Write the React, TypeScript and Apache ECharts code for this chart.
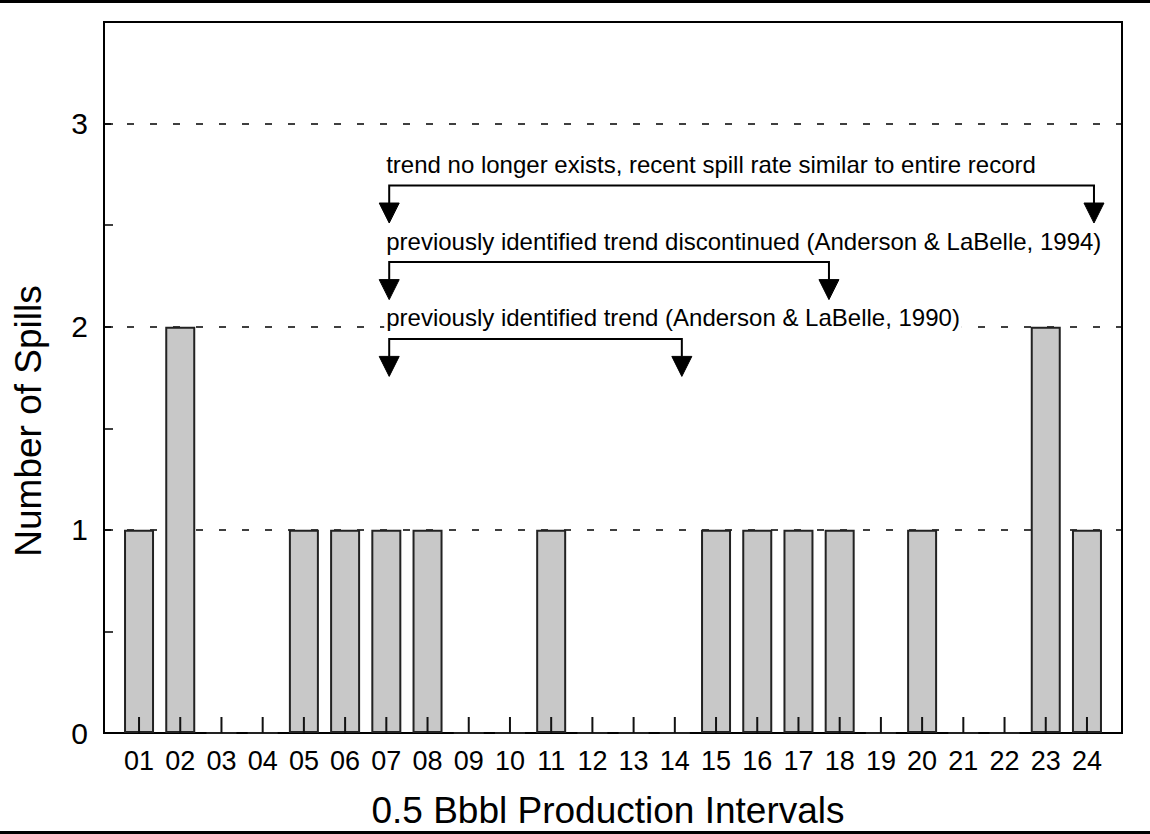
import React, { useEffect, useRef } from "react";
import * as echarts from "echarts";

const categories = ["01","02","03","04","05","06","07","08","09","10","11","12","13","14","15","16","17","18","19","20","21","22","23","24"];
const spills = [1, 2, 0, 0, 1, 1, 1, 1, 0, 0, 1, 0, 0, 0, 1, 1, 1, 1, 0, 1, 0, 0, 2, 1];
const yTickLabels = ["0", "1", "2", "3"];

const annoText = [
  "trend no longer exists, recent spill rate similar to entire record",
  "previously identified trend discontinued (Anderson & LaBelle, 1994)",
  "previously identified trend (Anderson & LaBelle, 1990)",
];
const annoStart = [7.07, 7.07, 7.07];
const annoEnd = [24.17, 17.74, 14.17];
const annoLevel = [2.695, 2.318, 1.94];

const FONT = "'Liberation Sans', Arial, Helvetica, sans-serif";

export default function App() {
  const ref = useRef<HTMLDivElement>(null);
  useEffect(() => {
    document.body.style.margin = "0";
    const chart = echarts.init(ref.current!, null, { renderer: "svg" });
    const band = 1018 / 24.7;
    const innerLeft = 104 + 0.85 * band - band / 2;
    const option: any = {
      animation: false,
      backgroundColor: "#fff",
      textStyle: { fontFamily: FONT, color: "#000" },
      grid: [
        {
          left: 104, top: 22, width: 1018, height: 711,
          show: true, borderColor: "#000", borderWidth: 2, backgroundColor: "transparent",
        },
        { left: innerLeft, top: 22, width: band * 24, height: 711 },
      ],
      xAxis: [
        {
          type: "value", gridIndex: 0, min: 0.15, max: 24.85,
          axisLine: { show: false }, axisTick: { show: false }, axisLabel: { show: false }, splitLine: { show: false },
        },
        {
          type: "category", gridIndex: 1, data: categories, boundaryGap: true,
          axisLine: { show: false },
          axisTick: { show: false },
          axisLabel: { show: true, interval: 0, margin: 14, fontSize: 27, color: "#000", fontFamily: FONT },
          splitLine: { show: false },
        },
      ],
      yAxis: [
        {
          type: "value", gridIndex: 0, min: 0, max: 3.5, interval: 0.5,
          axisLine: { show: true, lineStyle: { color: "#000", width: 2 } },
          axisTick: { show: true, inside: true, length: 9, lineStyle: { color: "#000", width: 1.5 } },
          axisLabel: {
            margin: 16, fontSize: 30, color: "#000", fontFamily: FONT,
            formatter: (v: number) => (Number.isInteger(v) ? yTickLabels[v] ?? "" : ""),
          },
          splitLine: { show: false },
        },
        {
          type: "value", gridIndex: 0, min: 0, max: 3.5, interval: 1, position: "left",
          axisLine: { show: false }, axisTick: { show: false }, axisLabel: { show: false },
          splitLine: { show: true, lineStyle: { color: "#000", width: 1.5, type: [7, 16] } },
        },
        {
          type: "value", gridIndex: 1, min: 0, max: 3.5,
          axisLine: { show: false }, axisTick: { show: false }, axisLabel: { show: false }, splitLine: { show: false },
        },
      ],
      series: [
        {
          type: "bar",
          xAxisIndex: 1,
          yAxisIndex: 2,
          data: spills,
          barWidth: 30,
          itemStyle: { color: "#c8c8c8", borderColor: "#222", borderWidth: 2 },
          z: 2,
        },
        {
          type: "custom",
          xAxisIndex: 1,
          yAxisIndex: 2,
          clip: false,
          z: 4,
          silent: true,
          encode: { x: 0, y: 1 },
          data: categories.map((c) => [c, 0]),
          renderItem: (params: any, api: any) => {
            const p = api.coord([api.value(0), 0]);
            return {
              type: "line",
              shape: { x1: p[0], y1: p[1], x2: p[0], y2: p[1] - 16 },
              style: { stroke: "#111", lineWidth: 2 },
            };
          },
        },
        {
          type: "custom",
          xAxisIndex: 0,
          yAxisIndex: 0,
          clip: false,
          z: 5,
          encode: { x: [0, 1], y: 2 },
          data: annoText.map((_, i) => [annoStart[i], annoEnd[i], annoLevel[i]]),
          renderItem: (params: any, api: any) => {
            const s = api.coord([api.value(0), api.value(2)]);
            const e = api.coord([api.value(1), api.value(2)]);
            const y = s[1];
            const arrowTop = y + 17.5;
            const tip = y + 37.5;
            const hw = 10;
            const arrow = (x: number) => ({
              type: "polygon",
              shape: { points: [[x - hw, arrowTop], [x + hw, arrowTop], [x, tip]] },
              style: { fill: "#000", stroke: "#000", lineWidth: 1 },
            });
            return {
              type: "group",
              children: [
                {
                  type: "text",
                  x: s[0] - 5,
                  y: y - 21,
                  style: {
                    text: annoText[params.dataIndex],
                    fontSize: 24,
                    fontFamily: FONT,
                    fill: "#000",
                    align: "left",
                    verticalAlign: "middle",
                    backgroundColor: "#fff",
                    padding: [0, 2],
                  },
                },
                {
                  type: "polyline",
                  shape: { points: [[s[0], arrowTop], [s[0], y], [e[0], y], [e[0], arrowTop]] },
                  style: { stroke: "#000", lineWidth: 2, fill: null },
                },
                arrow(s[0]),
                arrow(e[0]),
              ],
            };
          },
        },
      ],
      graphic: [
        { type: "rect", shape: { x: 0, y: 0, width: 1150, height: 3 }, style: { fill: "#000" } },
        { type: "rect", shape: { x: 0, y: 831, width: 1150, height: 3 }, style: { fill: "#000" } },
        {
          type: "text", x: 28, y: 421, rotation: Math.PI / 2,
          style: { text: "Number of Spills", fontSize: 37, fontFamily: FONT, fill: "#000", align: "center", verticalAlign: "middle" },
        },
        {
          type: "text", x: 608, y: 810,
          style: { text: "0.5 Bbbl Production Intervals", fontSize: 37, fontFamily: FONT, fill: "#000", align: "center", verticalAlign: "middle" },
        },
      ],
    };
    chart.setOption(option);
    return () => chart.dispose();
  }, []);
  return <div ref={ref} style={{ width: 1150, height: 834 }} />;
}
